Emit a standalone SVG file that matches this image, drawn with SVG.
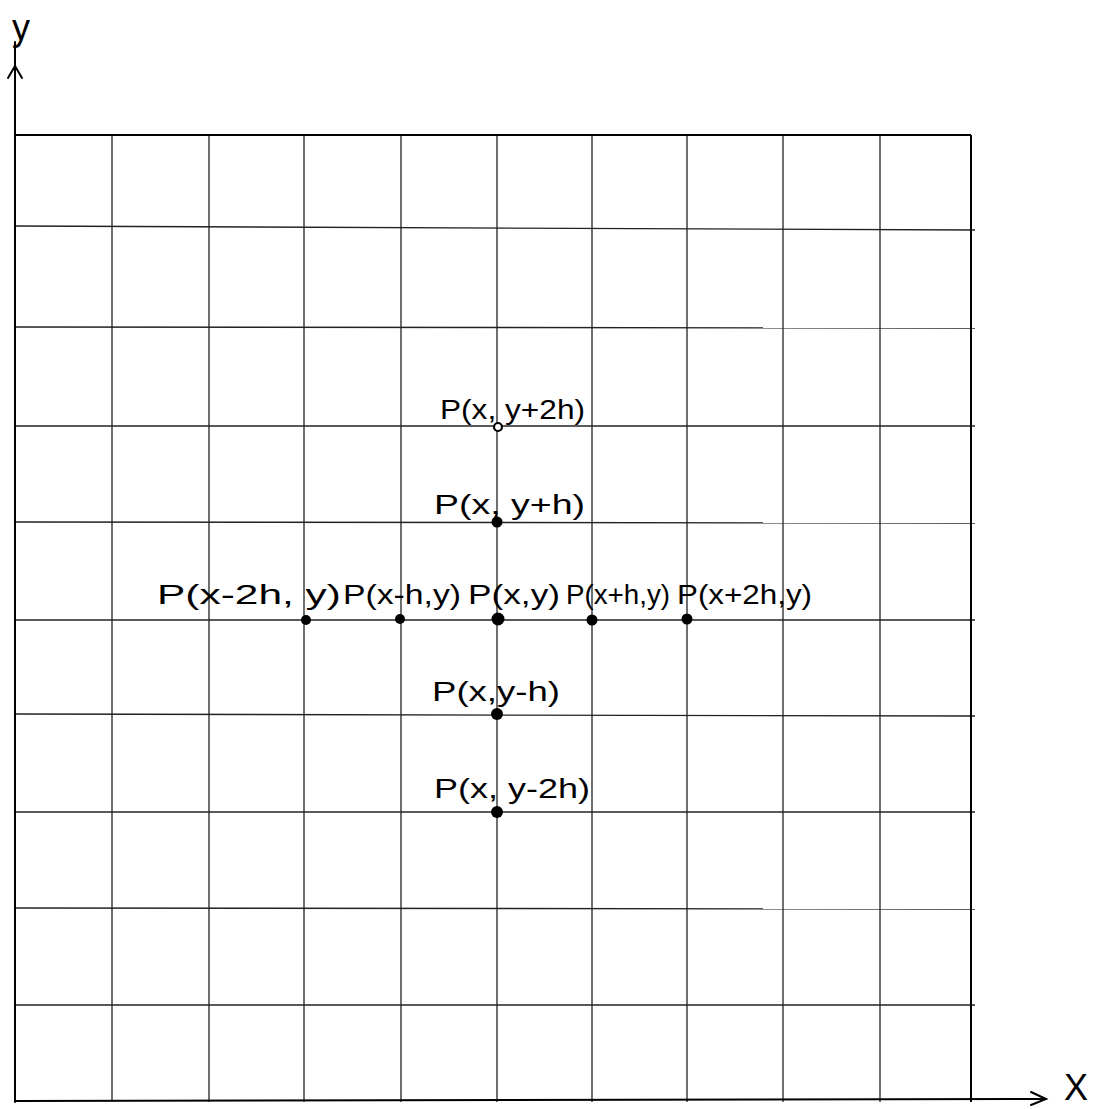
<svg xmlns="http://www.w3.org/2000/svg" width="1097" height="1109" viewBox="0 0 1097 1109">
<style>
.g{stroke:#222;stroke-width:1.3;fill:none}
.b{stroke:#000;stroke-width:2;fill:none}
.ax{stroke:#000;stroke-width:2;fill:none;stroke-linecap:round}
.lbl{font-family:"Liberation Sans",Arial,sans-serif;font-size:27px;fill:#000}
.ax-l{font-family:"Liberation Sans",Arial,sans-serif;font-size:36px;fill:#000}
.dot{fill:#000}
</style>
<rect width="1097" height="1109" fill="#fff"/>
<g id="grid">
<line class="g" x1="112" y1="135" x2="112" y2="1102"/>
<line class="g" x1="209" y1="135" x2="209" y2="1102"/>
<line class="g" x1="304" y1="135" x2="304" y2="1102"/>
<line class="g" x1="401" y1="135" x2="401" y2="1102"/>
<line class="g" x1="497" y1="135" x2="497" y2="1102"/>
<line class="g" x1="592" y1="135" x2="592" y2="1102"/>
<line class="g" x1="687" y1="135" x2="687" y2="1102"/>
<line class="g" x1="783" y1="135" x2="783" y2="1102"/>
<line class="g" x1="880" y1="135" x2="880" y2="1102"/>
<line class="g" x1="15" y1="226" x2="975" y2="230"/>
<line class="g" x1="15" y1="327" x2="975" y2="328"/>
<line class="g" x1="15" y1="426" x2="975" y2="426"/>
<line class="g" x1="15" y1="522" x2="975" y2="523"/>
<line class="g" x1="15" y1="620" x2="975" y2="620"/>
<line class="g" x1="15" y1="714" x2="975" y2="716"/>
<line class="g" x1="15" y1="812" x2="975" y2="812"/>
<line class="g" x1="15" y1="908" x2="975" y2="909"/>
<line class="g" x1="15" y1="1005" x2="975" y2="1005"/>
<line class="b" x1="15" y1="135" x2="971" y2="135"/>
<line class="b" x1="971" y1="135" x2="971" y2="1102"/>
</g>
<g id="axes">
<line class="ax" x1="15" y1="42" x2="15" y2="1102"/>
<polyline class="ax" points="8,78 15,66 22,78"/>
<line class="ax" x1="15" y1="1101" x2="1046" y2="1099"/>
<polyline class="ax" points="1031,1092 1046,1099 1031,1105"/>
<text class="ax-l" x="12" y="40">y</text>
<text class="ax-l" x="1064" y="1100">X</text>
</g>
<g id="points">
<circle cx="498" cy="427" r="4" fill="#fff" stroke="#000" stroke-width="2.2"/>
<circle class="dot" cx="497" cy="522" r="5.5"/>
<circle class="dot" cx="306" cy="620" r="5"/>
<circle class="dot" cx="400" cy="619" r="5"/>
<circle class="dot" cx="498" cy="619" r="6.5"/>
<circle class="dot" cx="592" cy="620" r="5.5"/>
<circle class="dot" cx="687" cy="619" r="5.5"/>
<circle class="dot" cx="497" cy="714" r="6"/>
<circle class="dot" cx="497" cy="812" r="6"/>
</g>
<g id="labels">
<text class="lbl" x="440" y="419" textLength="145" lengthAdjust="spacingAndGlyphs">P(x, y+2h)</text>
<text class="lbl" x="434" y="514" textLength="151" lengthAdjust="spacingAndGlyphs">P(x, y+h)</text>
<text class="lbl" x="157" y="604" textLength="184" lengthAdjust="spacingAndGlyphs">P(x-2h, y)</text>
<text class="lbl" x="343" y="604" textLength="118" lengthAdjust="spacingAndGlyphs">P(x-h,y)</text>
<text class="lbl" x="468" y="604" textLength="92" lengthAdjust="spacingAndGlyphs">P(x,y)</text>
<text class="lbl" x="566" y="604" textLength="104" lengthAdjust="spacingAndGlyphs">P(x+h,y)</text>
<text class="lbl" x="677" y="604" textLength="135" lengthAdjust="spacingAndGlyphs">P(x+2h,y)</text>
<text class="lbl" x="432" y="701" textLength="128" lengthAdjust="spacingAndGlyphs">P(x,y-h)</text>
<text class="lbl" x="434" y="798" textLength="156" lengthAdjust="spacingAndGlyphs">P(x, y-2h)</text>
</g>
</svg>
